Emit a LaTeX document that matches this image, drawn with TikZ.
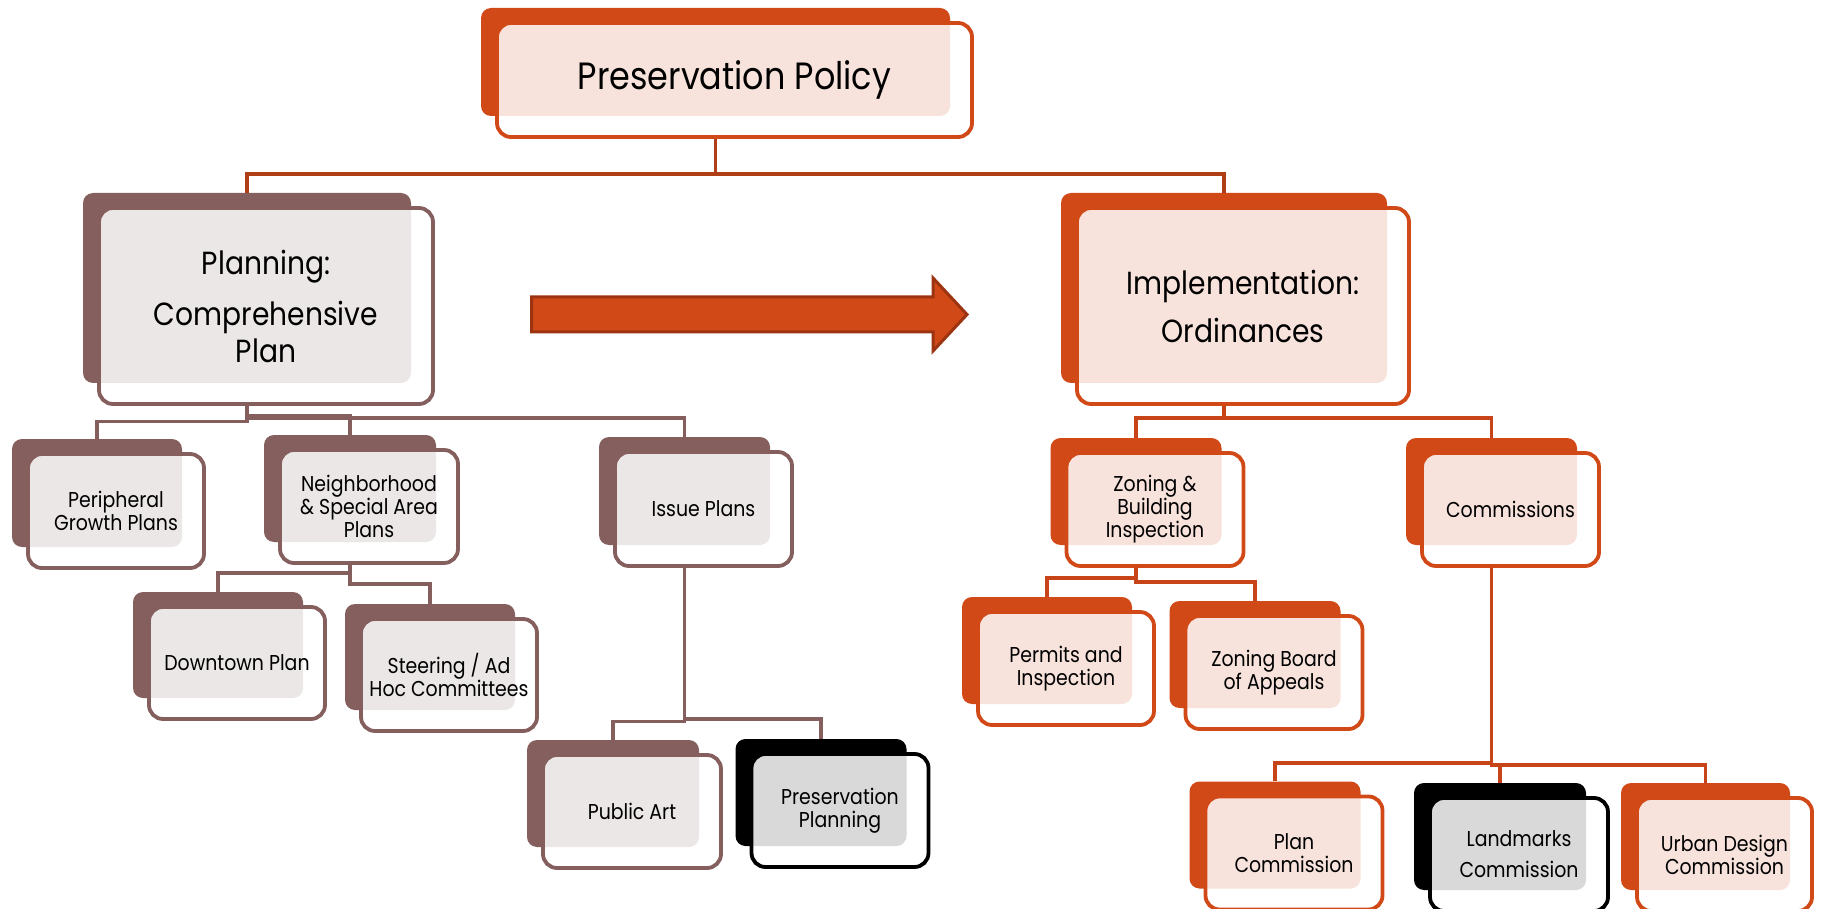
\documentclass[tikz,border=0pt]{standalone}
\usepackage{fontspec}
\setmainfont{Poppins}[FakeStretch=0.88]
\usetikzlibrary{calc,positioning}

\definecolor{orng}{RGB}{210,73,24}
\definecolor{orlink}{RGB}{198,68,24}
\definecolor{mauve}{RGB}{133,94,94}
\definecolor{toplink}{RGB}{176,62,22}
\definecolor{arrowedge}{RGB}{156,52,17}

\newcommand{\policyfont}{\fontsize{38}{42}\selectfont}
\newcommand{\levelfont}{\fontsize{32}{37}\selectfont}
\newcommand{\leaffont}{\fontsize{21.5}{23}\selectfont}

\begin{document}
\begin{tikzpicture}[x=1pt,y=-1pt,
    backbox/.style={rectangle, rounded corners=10pt, inner sep=0pt},
    frontbox/.style={rectangle, rounded corners=14pt, line width=3.8pt, fill=white,
      fill opacity=0.85, text opacity=1, align=center, inner sep=0pt},
    link/.style={line width=3.5pt}]
  \useasboundingbox (0,0) rectangle (1824,909);
  \foreach \nm/\cx/\cy/\bw/\bh/\col/\fnt/\txt in {
      policy/734.5/80/475/114/orng/\policyfont/{Preservation Policy},
      planning/266/306/334/196/mauve/\levelfont/{Planning:\\[14pt]Comprehensive\\Plan},
      impl/1243/306/332/196/orng/\levelfont/{Implementation:\\[11pt]Ordinances},
      periph/116/511/176/114/mauve/\leaffont/{Peripheral\\Growth Plans},
      neigh/369/506.5/178/113/mauve/\leaffont/{Neighborhood\\\& Special Area\\Plans},
      issue/703.5/509/177/114/mauve/\leaffont/{Issue Plans},
      downtown/237/663/176/112/mauve/\leaffont/{Downtown Plan},
      steering/449/675/176/112/mauve/\leaffont/{Steering / Ad\\Hoc Committees},
      pubart/632/811.5/178/113/mauve/\leaffont/{Public Art},
      presplan/840/810.5/177/113/black/\leaffont/{Preservation\\Planning},
      zoning/1155/509.5/177/113/orng/\leaffont/{Zoning \&\\Building\\Inspection},
      comms/1510.5/509.5/177/113/orng/\leaffont/{Commissions},
      permits/1066/668.5/176/113/orng/\leaffont/{Permits and\\Inspection},
      zba/1274/672.5/177/113/orng/\leaffont/{Zoning Board\\of Appeals},
      plancomm/1294/853/177/113/orng/\leaffont/{Plan\\Commission},
      landmarks/1519/854.5/178/113/black/\leaffont/{Landmarks\\[8pt]Commission},
      urban/1724.5/854.5/175/113/orng/\leaffont/{Urban Design\\Commission}} {
    \node[backbox, fill=\col, minimum width=\bw-6, minimum height=\bh-6] (\nm-b) at (\cx-19,\cy-18) {};
    \node[frontbox, draw=\col, font=\fnt, minimum width=\bw, minimum height=\bh] (\nm) at (\cx,\cy) {\txt};
  }
  \foreach \p/\c/\bus/\col in {
      policy/planning/174/toplink, policy/impl/174/toplink,
      planning/periph/421.5/mauve, planning/neigh/416/mauve, planning/issue/418/mauve,
      neigh/downtown/573/mauve, neigh/steering/584/mauve,
      issue/pubart/721.5/mauve, issue/presplan/719/mauve,
      impl/zoning/418/orlink, impl/comms/418/orlink,
      zoning/permits/578/orlink, zoning/zba/582/orlink,
      comms/plancomm/763/orlink, comms/landmarks/765/orlink, comms/urban/765/orlink} {
    \coordinate (bus) at (0,\bus);
    \draw[link, draw=\col] (\p-b.south |- \p.south) -- (\p-b.south |- bus) -| (\c-b.north);
  }
  \draw[line width=3pt, draw=arrowedge, fill=orng] (531.5,297) -- (933,297) -- (933,278)
    -- (967,314.5) -- (933,351) -- (933,332) -- (531.5,332) -- cycle;
\end{tikzpicture}
\end{document}
